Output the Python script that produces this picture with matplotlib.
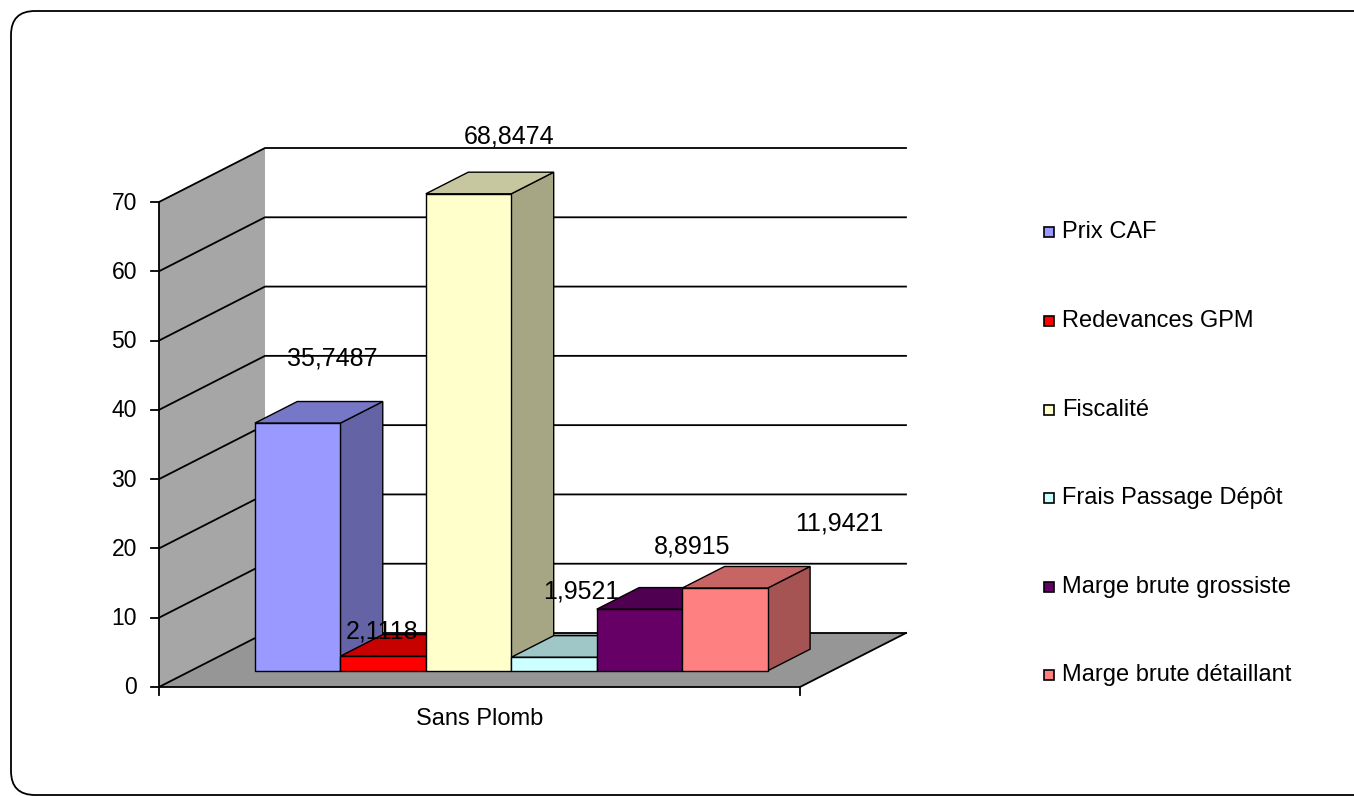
import matplotlib
matplotlib.use("Agg")
import matplotlib.pyplot as plt
from matplotlib.patches import Polygon, FancyBboxPatch, Rectangle

plt.rcParams['font.family'] = ['Liberation Sans', 'DejaVu Sans']

category = "Sans Plomb"
series = ["Prix CAF", "Redevances GPM", "Fiscalité", "Frais Passage Dépôt",
          "Marge brute grossiste", "Marge brute détaillant"]
values = [35.7487, 2.1118, 68.8474, 1.9521, 8.8915, 11.9421]
labels = ["35,7487", "2,1118", "68,8474", "1,9521", "8,8915", "11,9421"]
colors = ["#9999FF", "#FF0000", "#FFFFCC", "#CCFFFF", "#660066", "#FF8080"]
yticks = list(range(0, 80, 10))

W, H = 1354, 796
fig = plt.figure(figsize=(W / 100, H / 100), dpi=100)
ax = fig.add_axes([0, 0, 1, 1])
ax.set_xlim(0, W)
ax.set_ylim(H, 0)
ax.axis("off")

# oblique projection of the 3D plot box (pixel space)
X0, Y0 = 159, 687          # front-left corner at value 0
CAT_W = 641                 # front width of the category
SCALE = 485 / 70            # pixels per unit
DEPTH = (106, -54)          # full depth offset
VMAX = 70


def proj(u, v, d):
    return (X0 + u * CAT_W + d * DEPTH[0], Y0 - v * SCALE + d * DEPTH[1])


def shade(c, f):
    r, g, b = matplotlib.colors.to_rgb(c)
    return (r * f, g * f, b * f)


# left wall and floor
wall = [proj(0, 0, 0), proj(0, VMAX, 0), proj(0, VMAX, 1), proj(0, 0, 1)]
ax.add_patch(Polygon(wall, closed=True, fc="#a6a6a6", ec="none", zorder=1))
floor = [proj(0, 0, 0), proj(1, 0, 0), proj(1, 0, 1), proj(0, 0, 1)]
ax.add_patch(Polygon(floor, closed=True, fc="#969696", ec="none", zorder=1))

# gridlines on back and side walls
for t in yticks:
    xs, ys = zip(proj(0, t, 0), proj(0, t, 1), proj(1, t, 1))
    ax.plot(xs, ys, color="black", lw=1.3, zorder=2)

# floor edges and axes
xs, ys = zip(proj(0, 0, 0), proj(1, 0, 0), proj(1, 0, 1))
ax.plot(xs, ys, color="black", lw=1.3, zorder=2)
xs, ys = zip(proj(0, 0, 0), proj(0, VMAX, 0))
ax.plot(xs, ys, color="black", lw=1.3, zorder=2)
for t in yticks:
    x, y = proj(0, t, 0)
    ax.plot([x - 8, x], [y, y], color="black", lw=1.3, zorder=2)
    ax.text(x - 22, y + 1, str(t), ha="right", va="center", fontsize=16.5)
for u in (0, 1):
    x, y = proj(u, 0, 0)
    ax.plot([x, x], [y, y + 8], color="black", lw=1.3, zorder=2)
x, y = proj(0.5, 0, 0)
ax.text(x, y + 32, category, ha="center", va="center", fontsize=17)

# bars
n = len(values)
gap = 1.5
bw = 1 / (n + gap)
d0, d1 = 0.3, 0.7
label_dx = [-8, -43, -2, -15, 10, 72]
label_dy = [-43, -3, -36, -44, -41, -43]
for i, (v, c) in enumerate(zip(values, colors)):
    ul = gap / 2 * bw + i * bw
    ur = ul + bw
    front = [proj(ul, 0, d0), proj(ur, 0, d0), proj(ur, v, d0), proj(ul, v, d0)]
    top = [proj(ul, v, d0), proj(ur, v, d0), proj(ur, v, d1), proj(ul, v, d1)]
    side = [proj(ur, 0, d0), proj(ur, 0, d1), proj(ur, v, d1), proj(ur, v, d0)]
    z = 3 + i
    ax.add_patch(Polygon(side, closed=True, fc=shade(c, 0.65), ec="black", lw=1, zorder=z))
    ax.add_patch(Polygon(top, closed=True, fc=shade(c, 0.78), ec="black", lw=1, zorder=z))
    ax.add_patch(Polygon(front, closed=True, fc=c, ec="black", lw=1, zorder=z))

for i, (v, lab) in enumerate(zip(values, labels)):
    ul = gap / 2 * bw + i * bw
    x, y = proj(ul + bw / 2, v, d1)
    ax.text(x + label_dx[i], y + label_dy[i], lab, ha="center", va="center",
            fontsize=18, zorder=20)

# legend
leg_y = [232, 321, 410, 498, 587, 675]
for name, c, ly in zip(series, colors, leg_y):
    ax.add_patch(Rectangle((1044, ly - 5), 10, 10, fc=c, ec="black", lw=1.2, zorder=5))
    ax.text(1062, ly, name, ha="left", va="center", fontsize=17)

# rounded border
ax.add_patch(FancyBboxPatch((11, 11), 1400, 784, boxstyle="round,pad=0,rounding_size=24",
                            fc="none", ec="black", lw=1.3, zorder=30, clip_on=True))

fig.savefig("out.png", dpi=100)
